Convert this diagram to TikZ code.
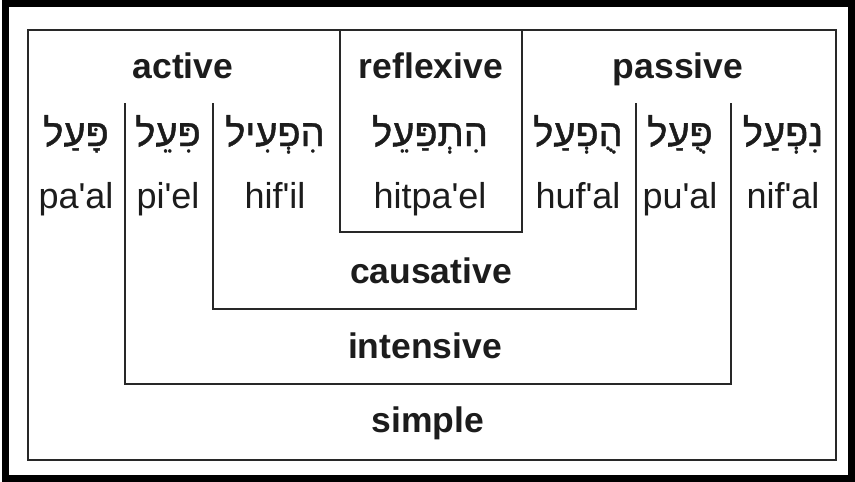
\documentclass[tikz,border=0pt]{standalone}
\usepackage{fontspec}
\setmainfont{Liberation Sans}
\newfontfamily\hebfont[Script=Hebrew,FakeBold=1.2]{Liberation Sans}
\TeXXeTstate=1
\usepackage{xcolor}
\usepackage{tikz}
\usetikzlibrary{positioning}
\definecolor{ink}{RGB}{28,28,28}
\definecolor{rule}{RGB}{40,40,40}
\newcommand{\ap}{\textquotesingle}
\tikzset{
  head/.style    = {font=\fontsize{35.5}{37}\selectfont\bfseries, text=ink,
                    anchor=base, inner sep=0pt},
  heb/.style     = {font=\fontsize{38}{40}\selectfont\hebfont, text=ink,
                    anchor=base, inner sep=0pt},
  translit/.style= {font=\fontsize{36}{38}\selectfont, text=ink,
                    anchor=base, inner sep=0pt},
  rim/.style     = {draw=rule, line width=2pt, line join=miter},
}

\begin{document}
\begin{tikzpicture}[x=1pt, y=-1pt]
\useasboundingbox (0,0) rectangle (855,482);
% outer frame
\draw[line width=7pt] (5.5,3.5) rectangle (851.5,478.5);

% Binyan frames: simple, intensive, causative, reflexive
\draw[rim] (28,30) rectangle (836,460);
\draw[rim] (125,103) -- (125,384) -- (731,384) -- (731,103);
\draw[rim] (213,103) -- (213,309) -- (636,309) -- (636,103);
\draw[rim] (340,30) -- (340,232) -- (522,232) -- (522,30);

% Voice headings
\node[head] (active)  at (183,78) {active};
\node[head] (refl)    at (431,78) {reflexive};
\node[head] (passive) at (678,78) {passive};

% Hebrew forms and transliterations
\foreach \n/\x/\h/\t in {paal/76/פָּעַל/pa\ap al, piel/168/פִּעֵל/pi\ap el,
    hifil/275/הִפְעִיל/hif\ap il, hitpael/430/הִתְפַּעֵל/hitpa\ap el,
    hufal/578/הֻפְעַל/huf\ap al, pual/680/פֻּעַל/pu\ap al, nifal/783/נִפְעַל/nif\ap al}{%
  \node[heb] (h-\n) at (\x,146) {\beginR\h\endR};
  \node[translit] (t-\n) at (\x,208) {\t};
}

% Stem labels
\node[head] (caus)   at (431,283) {causative};
\node[head] (inten)  at (425,358) {intensive};
\node[head] (simple) at (428,432) {simple};
\end{tikzpicture}
\end{document}
